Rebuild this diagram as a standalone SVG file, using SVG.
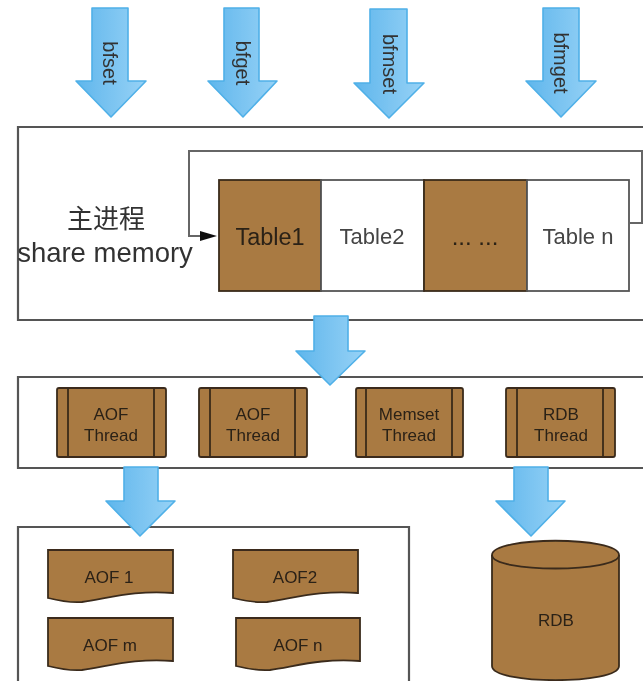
<svg xmlns="http://www.w3.org/2000/svg" width="643" height="681" viewBox="0 0 643 681">
<style>
text{font-family:"Liberation Sans","Noto Sans CJK SC",sans-serif;fill:#2b2118;text-anchor:middle}
.box{fill:#fff;stroke:#555;stroke-width:2.2}
.br{fill:#a97a42;stroke:#3a2c1c;stroke-width:1.8}
.wh{fill:#fff;stroke:#555;stroke-width:1.8}
.ln{fill:none;stroke:#3a2c1c;stroke-width:1.8}
.arr{fill:url(#bl);stroke:#4fb0e8;stroke-width:1.6;stroke-linejoin:round}
.lp{fill:none;stroke:#666;stroke-width:2}
.big{font-size:26px;fill:#333}
.tb{font-size:22px;fill:#444}
.t17{font-size:17px}
.rot{font-size:20px;fill:#333}
</style>
<defs>
<linearGradient id="bl" x1="0" y1="0" x2="1" y2="0"><stop offset="0" stop-color="#5fb6ec"/><stop offset="1" stop-color="#97d2f6"/></linearGradient>
<filter id="b" x="-2%" y="-2%" width="104%" height="104%"><feGaussianBlur stdDeviation="0.6"/></filter>
</defs>
<rect width="643" height="681" fill="#fff"/>
<g filter="url(#b)">
<g id="main-box"><path class="box" d="M644 127H18V320H644"/>
<text class="big" x="106" y="228">主进程</text>
<text class="big" x="105" y="262" style="font-size:27.5px">share memory</text></g>
<g id="table1"><rect class="br" x="219" y="180" width="102" height="111"/><text x="270" y="245" style="font-size:23.5px">Table1</text></g>
<g id="table2"><rect class="wh" x="321" y="180" width="103" height="111"/><text class="tb" x="372" y="244">Table2</text></g>
<g id="table-dots"><rect class="br" x="424" y="180" width="103" height="111"/><text x="475" y="245" style="font-size:24px">... ...</text></g>
<g id="tablen"><rect class="wh" x="527" y="180" width="102" height="111"/><text class="tb" x="578" y="244">Table n</text></g>

<g id="threads-box"><path class="box" d="M644 377H18V468H644"/></g>
<g id="t1"><rect class="br" x="57" y="388" width="109" height="69" rx="2"/><path class="ln" d="M68 388V457M154 388V457"/><text class="t17" x="111" y="420">AOF</text><text class="t17" x="111" y="441">Thread</text></g>
<g id="t2"><rect class="br" x="199" y="388" width="108" height="69" rx="2"/><path class="ln" d="M210 388V457M295 388V457"/><text class="t17" x="253" y="420">AOF</text><text class="t17" x="253" y="441">Thread</text></g>
<g id="t3"><rect class="br" x="356" y="388" width="107" height="69" rx="2"/><path class="ln" d="M366 388V457M452 388V457"/><text class="t17" x="409" y="420">Memset</text><text class="t17" x="409" y="441">Thread</text></g>
<g id="t4"><rect class="br" x="506" y="388" width="109" height="69" rx="2"/><path class="ln" d="M517 388V457M603 388V457"/><text class="t17" x="561" y="420">RDB</text><text class="t17" x="561" y="441">Thread</text></g>

<g id="files-box"><path class="box" d="M18 681V527H409V681"/></g>
<g id="aof1"><path class="br" d="M48 550H173V593C135 590 110 598 82 602C68 603 56 600 48 598Z"/><text class="t17" x="109" y="583">AOF 1</text></g>
<g id="aof2"><path class="br" d="M233 550H358V593C320 590 295 598 267 602C253 603 241 600 233 598Z"/><text class="t17" x="295" y="583">AOF2</text></g>
<g id="aofm"><path class="br" d="M48 618H173V661C135 658 110 666 82 670C68 671 56 668 48 666Z"/><text class="t17" x="110" y="651">AOF m</text></g>
<g id="aofn"><path class="br" d="M236 618H360V661C322 658 297 666 270 670C256 671 244 668 236 666Z"/><text class="t17" x="298" y="651">AOF n</text></g>
<g id="rdb"><path class="br" d="M492 555C492 536 619 536 619 555V666C619 685 492 685 492 666Z"/><path class="ln" d="M492 555C492 573 619 573 619 555"/><text class="t17" x="556" y="626">RDB</text></g>

<g id="connectors">
<path class="lp" d="M629 223H642V151H189V236H200"/>
<path d="M200 231L217 236L200 241Z" fill="#111"/>
<path class="arr" d="M92 8H128V81H146L111 117L76 81H92Z"/>
<path class="arr" d="M224 8H259V81H277L243 117L208 81H224Z"/>
<path class="arr" d="M370 9H407V83H424L389 118L354 83H370Z"/>
<path class="arr" d="M543 8H579V81H596L561 117L526 81H543Z"/>
<path class="arr" d="M314 316H348V351H365L330 385L296 351H314Z"/>
<path class="arr" d="M124 467H158V501H175L140 536L106 501H124Z"/>
<path class="arr" d="M514 467H548V501H565L531 536L496 501H514Z"/>
<text class="rot" transform="translate(103,63) rotate(90)">bfset</text>
<text class="rot" transform="translate(235.5,63) rotate(90)">bfget</text>
<text class="rot" transform="translate(382.5,64) rotate(90)">bfmset</text>
<text class="rot" transform="translate(553.5,63) rotate(90)">bfmget</text>
</g>
</g>
</svg>
